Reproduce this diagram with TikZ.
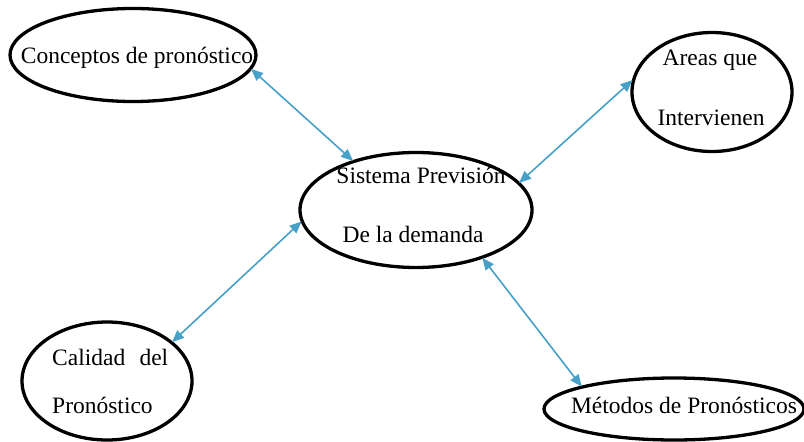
\documentclass[tikz,border=0pt]{standalone}
\usepackage{fontspec}
\setmainfont{Liberation Serif}
\usetikzlibrary{shapes.geometric,arrows.meta}
\definecolor{linkblue}{RGB}{70,160,200}
\begin{document}
\begin{tikzpicture}[x=1pt,y=-1pt,
  bubble/.style={ellipse,draw=black,line width=3.3pt,inner sep=0pt},
  lbl/.style={inner sep=0pt,font=\fontsize{23.5}{28}\selectfont},
  link/.style={draw=linkblue,line width=1.6pt,
    {Triangle[length=12pt,width=10pt]}-{Triangle[length=12pt,width=10pt]},
    shorten <=-1pt,shorten >=-1pt}]
  \useasboundingbox (0,0) rectangle (804,442);

  % outlines of the five topics
  \node[bubble,minimum width=246pt,minimum height=93pt] (conc) at (133,55) {};
  \node[bubble,minimum width=160pt,minimum height=119pt] (areas) at (712,92) {};
  \node[bubble,minimum width=232pt,minimum height=115pt] (sis) at (416,210) {};
  \node[bubble,minimum width=170pt,minimum height=118pt] (cal) at (107,381) {};
  \node[bubble,minimum width=260pt,minimum height=62pt] (met) at (674,409) {};

  % labels
  \node[lbl,anchor=base] (tconc) at (137,63) {Conceptos de pronóstico};
  \node[lbl,anchor=base] (tareas1) at (710,65) {Areas que};
  \node[lbl,anchor=base] (tareas2) at (711,125) {Intervienen};
  \node[lbl,anchor=base] (tsis1) at (421,183) {Sistema Previsión};
  \node[lbl,anchor=base] (tsis2) at (413,242) {De la demanda};
  \node[lbl,anchor=base west] (tcal1) at (52,365) {\makebox[116pt][s]{Calidad del}};
  \node[lbl,anchor=base west] (tcal2) at (52,413) {Pronóstico};
  \node[lbl,anchor=base] (tmet) at (684,413) {Métodos de Pronósticos};

  % two-way links to the central system
  \draw[link] (conc.-7.7) -- (sis.142.6);
  \draw[link] (areas.172.9) -- (sis.15.4);
  \draw[link] (cal.31.2) -- (sis.-174.1);
  \draw[link] (sis.-36.6) -- (met.166.8);
\end{tikzpicture}
\end{document}
